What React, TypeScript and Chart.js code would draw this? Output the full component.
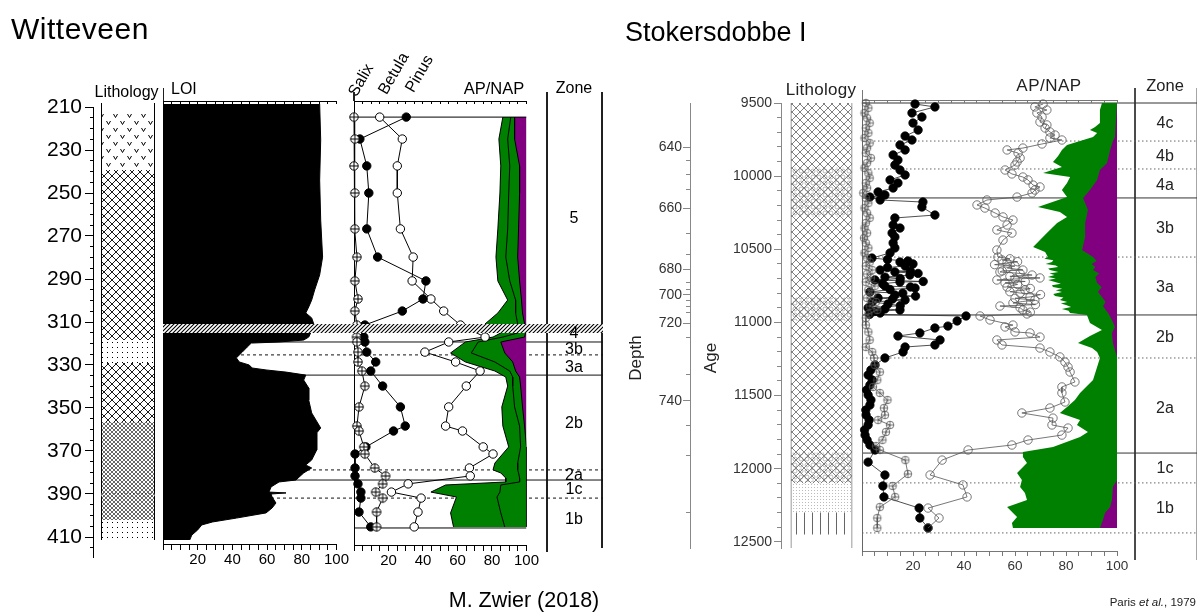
import React, { useEffect, useRef } from 'react';
import { Chart, registerables } from 'chart.js';

Chart.register(...registerables);

const FONT = '"Liberation Sans", Arial, Helvetica, sans-serif';
const GREEN = '#008000';
const PURPLE = '#800080';

/* ======================= Witteveen (M. Zwier 2018) ======================= */
const wDepthLabels = [210, 230, 250, 270, 290, 310, 330, 350, 370, 390, 410];
const wDepthMinor = [210, 215, 220, 225, 230, 235, 240, 245, 250, 255, 260, 265, 270, 275, 280, 285, 290, 295, 300, 305, 310, 315, 320, 325, 330, 335, 340, 345, 350, 355, 360, 365, 370, 375, 380, 385, 390, 395, 400, 405, 410, 415];
const pctTicks = [0, 5, 10, 15, 20, 25, 30, 35, 40, 45, 50, 55, 60, 65, 70, 75, 80, 85, 90, 95, 100];
const pctLabels = [20, 40, 60, 80, 100];

const wLithoTop = [212.5, 239.3, 318.4, 329.1, 356.5, 389.6, 402.1];
const wLithoBottom = [239.3, 318.4, 329.1, 356.5, 402.1, 391.0, 411.4];
const wLithoKind = ['vees', 'diamond', 'dots', 'diamond', 'fine', 'light', 'dots'];
const wLithoFrame = [208.1, 411.4];

const loiDepth = [208.6, 225.3, 244.0, 262.6, 279.8, 288.1, 295.1, 299.8, 303.0, 305.8, 308.1, 310.9, 315.1, 317.0, 318.4, 319.3, 319.8, 321.6, 324.0, 326.7, 328.6, 330.0, 331.4, 332.3, 333.3, 334.7, 337.0, 340.7, 346.3, 352.3, 359.3, 361.6, 369.5, 374.2, 376.5, 377.9, 380.2, 383.5, 384.4, 386.7, 389.1, 389.5, 390.0, 391.4, 394.2, 396.5, 398.8, 401.2, 403.0, 404.4, 406.7, 409.1, 411.4];
const loiValue = [90.3, 90.9, 90.3, 90.9, 92.0, 90.3, 87.4, 85.7, 84.0, 82.3, 85.7, 86.9, 85.1, 84.0, 81.1, 66.9, 50.9, 48.6, 45.7, 42.3, 44.0, 49.7, 51.4, 59.4, 70.9, 82.3, 81.1, 84.0, 84.0, 85.7, 90.9, 88.6, 88.6, 85.7, 82.3, 85.7, 81.1, 76.6, 66.9, 62.3, 61.1, 70.9, 62.3, 62.9, 65.1, 62.9, 59.4, 42.3, 28.6, 22.3, 20.0, 16.6, 15.4];

const wPollenDepth = [214.7, 224.9, 237.4, 250.0, 266.7, 279.8, 290.9, 299.3, 304.9, 311.4, 317.0, 319.3, 324.0, 328.6, 332.8, 339.8, 349.5, 358.4, 360.7, 368.1, 371.4, 377.9, 381.6, 385.3, 389.1, 391.9, 398.4, 405.3];
const wSalix = [0, 0.5, 0, 0.5, 0.5, 1.7, 0.5, 2.3, 0.5, 1.7, 1.5, 1.7, 2.3, 2.3, 4.6, 6.3, 2.9, 1.7, 2.9, 5.7, 6.3, 12.0, 18.3, 16.6, 12.6, 16.6, 13.1, 13.1];
const wBetula = [30.3, 3.4, 7.4, 8.6, 7.4, 13.7, 41.7, 40.0, 28.0, 6.3, 5.7, 6.3, 7.4, 12.6, 9.7, 16.6, 26.9, 29.7, 22.9, 6.9, 0.6, 0.6, 0.6, 2.3, 4.0, 4.0, 2.9, 9.7];
const wPinus = [14.9, 28.0, 25.1, 25.1, 26.9, 34.3, 33.7, 44.6, 52.0, 61.7, 76.0, 54.9, 41.1, 58.9, 73.1, 65.1, 54.9, 53.1, 62.9, 74.9, 80.6, 66.9, 67.4, 31.4, 21.7, 38.9, 37.1, 34.9];
const wPollenTop = 214.7;
const wPollenBottom = 405.8;

const wApDepth = [214.7, 224.9, 237.4, 250.0, 266.7, 279.8, 290.9, 299.8, 305.8, 310.9, 315.1, 317.0, 319.3, 324.4, 328.6, 332.8, 335.6, 339.8, 349.5, 358.4, 368.1, 375.6, 378.8, 380.2, 382.6, 384.4, 385.8, 389.1, 391.4, 398.8, 405.3];
const wApGreen = [86.3, 84.0, 85.1, 84.6, 83.4, 82.3, 83.4, 89.1, 83.4, 76.0, 85.1, 80.6, 64.6, 56.0, 64.6, 81.7, 88.0, 89.1, 85.7, 86.3, 89.7, 81.7, 80.6, 85.1, 88.0, 88.0, 53.1, 44.6, 59.4, 56.0, 57.7];
const wApLine = [90.9, 89.1, 90.3, 89.7, 89.1, 88.0, 90.3, 93.7, 93.7, 94.9, 94.9, 86.3, 72.0, 68.0, 81.7, 90.3, 92.0, 92.0, 93.1, 96.0, 96.6, 94.9, 94.9, 95.4, 96.0, 96.0, 85.1, 84.6, 82.9, 85.1, 87.4];
const wApPurple = [93.1, 93.1, 96.0, 96.0, 95.4, 94.9, 96.0, 97.1, 97.7, 98.9, 99.4, 98.9, 85.1, 87.4, 92.0, 93.7, 96.0, 96.6, 97.7, 98.9, 100, 100, 100, 100, 100, 100, 100, 100, 100, 100, 100];

const wZoneSolid = [319.3, 334.7, 383.5];
const wZoneDashed = [325.3, 378.8, 391.9];
const wHiatus = [310.9, 315.1];
const wZoneNames = ['5', '4', '3b', '3a', '2b', '2a', '1c', '1b'];
const wZoneLabelY = [218, 333, 349, 367, 423, 475, 489, 519];

/* ======================= Stokersdobbe I (Paris et al., 1979) ======================= */
const sAgeLabels = [9500, 10000, 10500, 11000, 11500, 12000, 12500];
const sAgeMinor = [9500, 9600, 9700, 9800, 9900, 10000, 10100, 10200, 10300, 10400, 10500, 10600, 10700, 10800, 10900, 11000, 11100, 11200, 11300, 11400, 11500, 11600, 11700, 11800, 11900, 12000, 12100, 12200, 12300, 12400, 12500];
const sDepthLabels = [640, 660, 680, 700, 720, 740];
const sDepthLabelAge = [9801, 10218, 10635, 10812, 11004, 11537];
const sDepthMinorAge = [9896, 9992, 10088, 10389, 10539, 10730, 10778, 10847, 10888, 10929, 11106, 11359, 11708, 11913, 12302];

const sLithoTop = [9500, 9940, 10830, 11890, 12100, 12300];
const sLithoBottom = [12100, 10280, 10990, 12090, 12300, 12450];
const sLithoKind = ['sCross', 'sRings', 'sRings', 'sRings', 'sDots', 'sVert'];
const sLithoFrame = [9500, 12542];

const sSalixAge = [9500, 9534, 9568, 9603, 9637, 9671, 9705, 9739, 9773, 9808, 9842, 9876, 9910, 9944, 9979, 10013, 10047, 10081, 10115, 10149, 10184, 10218, 10252, 10286, 10320, 10355, 10389, 10423, 10457, 10491, 10525, 10560, 10587, 10614, 10642, 10669, 10696, 10724, 10751, 10778, 10806, 10833, 10860, 10888, 10915, 10942, 10970, 11018, 11065, 11120, 11168, 11202, 11243, 11291, 11339, 11394, 11441, 11482, 11530, 11585, 11633, 11667, 11701, 11749, 11804, 11845, 11872, 11941, 12036, 12118, 12193, 12262, 12337, 12405];
const sSalix = [1.5, 2.5, 1, 2, 3, 1.5, 2.5, 1, 3, 2, 1.5, 3.5, 2, 1, 2.5, 3, 1.5, 2, 0.5, 1.5, 2.5, 1, 2, 3, 1.5, 1, 2, 0.8, 1.5, 2.5, 1, 2, 3, 1.5, 4, 2, 3.5, 1.5, 5, 2.5, 4, 2, 5.5, 3, 6, 2.5, 1.5, 1.5, 2.5, 3, 1.5, 4, 4.7, 5, 7, 6, 4.3, 7, 10, 8.6, 9, 6.3, 11, 9.4, 8, 5.5, 7, 17, 18, 12, 13, 7, 6, 6];

const sBetulaAge = [9507, 9527, 9568, 9596, 9637, 9685, 9726, 9753, 9787, 9821, 9855, 9890, 9924, 9958, 9992, 10026, 10047, 10081, 10108, 10129, 10143, 10163, 10177, 10211, 10266, 10286, 10334, 10355, 10389, 10416, 10457, 10491, 10525,
  10560, 10570, 10580, 10587, 10600, 10614, 10625, 10642, 10650, 10655, 10665, 10676, 10690, 10700, 10710, 10720, 10724, 10735, 10751, 10758, 10765, 10775, 10792, 10800, 10813, 10820, 10833, 10840, 10847, 10860, 10874, 10885, 10901, 10908, 10915, 10925, 10936, 10945,
  10956, 10990, 11025, 11038, 11072, 11093, 11120, 11154, 11168, 11202, 11243, 11291, 11325, 11359, 11394, 11428, 11462, 11496, 11530, 11565, 11599, 11633, 11667, 11701, 11735, 11770, 11804, 11838, 11872, 11955, 12043, 12118, 12193, 12269, 12337, 12405];
const sBetula = [20.8, 28.6, 19.6, 23.5, 20.0, 22.0, 16.9, 19.6, 14.9, 16.9, 12.2, 14.1, 12.9, 14.9, 16.9, 11.0, 14.1, 12.2, 6.3, 9.0, 3.1, 7.1, 23.9, 23.5, 28.6, 12.9, 12.2, 14.9, 11.8, 12.9, 12.2, 12.9, 11.0,
  3.9, 10, 18, 14.9, 20, 16.9, 10, 7.1, 19, 12.9, 22, 18.8, 9, 15, 5.1, 24, 14.9, 8, 9.0, 19, 20.8, 11, 3.1, 16, 12.9, 21, 6.3, 12, 16.9, 4, 10.2, 15, 2.4, 9, 14.9, 5, 7.1, 3,
  40.8, 37.3, 33.7, 28.6, 22.7, 14.1, 30.6, 28.6, 16.9, 16.1, 9.0, 5.1, 3.5, 2.4, 4.0, 3.1, 1.8, 2.4, 3.5, 3.1, 1.5, 1.6, 2.8, 2.4, 1.0, 1.2, 2.0, 3.1, 5.1, 2.4, 9.0, 8.2, 8.6, 22.4, 22.7, 25.9];

const sPinusAge = [9507, 9527, 9548, 9568, 9596, 9630, 9650, 9671, 9698, 9719, 9739, 9753, 9780, 9808, 9821, 9842, 9876, 9903, 9924, 9958, 9985, 10006, 10026, 10061, 10074, 10095, 10115, 10143, 10163, 10197, 10218, 10252, 10279, 10300, 10334, 10368, 10389, 10437, 10505,
  10553, 10565, 10573, 10585, 10594, 10605, 10614, 10628, 10642, 10648, 10655, 10665, 10676, 10685, 10696, 10703, 10710, 10720, 10730, 10740, 10758, 10768, 10778, 10790, 10799, 10810, 10826, 10835, 10847, 10857, 10867, 10878, 10888, 10900, 10915, 10930, 10942,
  10956, 10983, 11018, 11031, 11065, 11072, 11100, 11120, 11154, 11175, 11202, 11236, 11271, 11305, 11339, 11407, 11441, 11482, 11544, 11585, 11619, 11654, 11701, 11722, 11770, 11804, 11838, 11872, 11941, 12043, 12111, 12193, 12269, 12337, 12405];
const sPinus = [71.0, 67.8, 72.5, 68.6, 70.6, 69.8, 72.5, 71.8, 73.7, 75.7, 73.7, 78.4, 70.6, 63.1, 56.9, 61.2, 62.0, 60.8, 60.0, 56.1, 58.8, 63.1, 65.1, 67.1, 69.8, 67.8, 66.7, 60.8, 49.0, 45.1, 48.2, 52.2, 55.3, 59.2, 56.9, 52.9, 58.8, 55.3, 52.9,
  53.3, 58, 54.9, 61, 56.9, 52, 60.0, 57, 63.1, 55, 54.1, 62, 66.7, 58, 69.8, 60, 52.9, 64, 56.1, 61, 56.9, 66, 63.9, 58, 62.0, 70, 65.9, 60, 67.8, 63, 59.2, 68, 54.1, 62, 63.1, 66, 64.7,
  46.3, 50.2, 59.2, 56.1, 60.0, 65.9, 69.8, 52.9, 54.9, 69.8, 73.7, 77.6, 79.6, 80.8, 81.6, 83.5, 78.4, 78.4, 79.6, 73.7, 62.7, 74.9, 74.5, 80.8, 78.4, 65.1, 58.8, 41.6, 31.4, 26.7, 39.6, 41.2, 25.9, 30.2, 25.9];

const sGreenAge = [9500, 9548, 9637, 9664, 9685, 9705, 9732, 9760, 9787, 9821, 9862, 9903, 9938, 9979, 10006, 10047, 10095, 10143, 10211, 10245, 10279, 10320, 10389, 10437, 10484, 10519,
  10553, 10565, 10575, 10587, 10600, 10610, 10621, 10632, 10642, 10655, 10665, 10676, 10689, 10700, 10710, 10724, 10735, 10745, 10758, 10770, 10780, 10792, 10805, 10819, 10830, 10847, 10860, 10870, 10881, 10895, 10908, 10920, 10936,
  10949, 11004, 11052, 11093, 11141, 11175, 11202, 11243, 11305, 11394, 11482, 11530, 11578, 11619, 11667, 11701, 11749, 11783, 11852, 11886, 11920, 11961, 12029, 12077, 12125, 12166, 12214, 12262, 12330, 12371, 12405];
const sGreen = [94.1, 93.3, 93.3, 91.4, 89.4, 92.2, 90.6, 85.5, 80.4, 78.4, 76.9, 74.9, 78.4, 71.0, 81.6, 80.4, 78.4, 80.4, 69.0, 77.6, 80.4, 76.5, 72.5, 69.8, 67.1, 71.8,
  72.9, 71.5, 75, 74.5, 72, 76, 76.9, 73, 73.7, 77, 73.5, 75.5, 72.9, 76, 73, 75.7, 78, 74.5, 74.9, 78.5, 76, 78.4, 75, 75.7, 79, 77.6, 80.5, 78, 80.0, 82, 78.4, 81, 81.6,
  88.2, 89.4, 94.1, 89.4, 84.7, 90.2, 92.2, 93.3, 92.2, 90.6, 85.5, 83.5, 80.4, 77.6, 85.5, 84.3, 88.6, 85.5, 74.9, 63.1, 63.1, 64.7, 60.8, 62.7, 62.0, 63.9, 64.7, 56.9, 60.8, 58.8, 59.2];

const sPurpleAge = [9500, 9616, 9732, 9760, 9821, 9910, 9958, 10026, 10095, 10149, 10231, 10320, 10416, 10505,
  10553, 10580, 10600, 10620, 10642, 10665, 10690, 10730, 10760, 10790, 10826, 10860, 10890, 10936,
  10983, 11031, 11072, 11141, 11236, 12077, 12125, 12214, 12262, 12303, 12351, 12405];
const sPurple = [100, 99.6, 99.2, 98.4, 97.3, 96.1, 93.3, 92.2, 89.4, 86.7, 88.6, 87.5, 87.5, 86.3,
  90.6, 92, 90, 91.5, 90.6, 93, 91.5, 92.2, 94, 92.5, 94.1, 95.5, 94.5, 96.5,
  98.0, 99.2, 98.0, 98.4, 100, 100, 98.4, 98.0, 97.3, 95.3, 94.5, 93.3];

const sZoneSolid = [9500, 10149, 10949, 11893];
const sZoneDotted = [9760, 9951, 10553, 11243, 12097, 12439];
const sZoneNames = ['4c', '4b', '4a', '3b', '3a', '2b', '2a', '1c', '1b'];
const sZoneLabelY = [123, 156, 185, 228, 287, 337, 408, 468, 508];

/* ======================= layout helpers ======================= */
const W_PX = 2.15, W_REF_PX = 107, W_REF_D = 210;
const wDepthAt = (py: number) => W_REF_D + (py - W_REF_PX) / W_PX;
const S_PX = 445 / 3042, S_REF_PX = 103, S_REF_A = 9500;
const sAgeAt = (py: number) => S_REF_A + (py - S_REF_PX) / S_PX;

const pts = (xs: number[], ys: number[]) => xs.map((x, i) => ({ x, y: ys[i] }));
const fixSize = (n: number) => (s: any) => { if (s.isHorizontal()) s.height = n; else s.width = n; };
const setTicks = (vals: number[]) => (s: any) => { s.ticks = vals.map((v) => ({ value: v })); };

function base(padding: any, scales: any, extra: any = {}) {
  return {
    responsive: false,
    maintainAspectRatio: false,
    animation: false,
    devicePixelRatio: 1,
    events: [],
    layout: { padding },
    plugins: { legend: { display: false }, tooltip: { enabled: false }, title: { display: false } },
    scales,
    ...extra,
  };
}

function pattern(w: number, h: number, draw: (g: CanvasRenderingContext2D) => void) {
  const c = document.createElement('canvas');
  c.width = w;
  c.height = h;
  const g = c.getContext('2d')!;
  draw(g);
  return g.createPattern(c, 'repeat')!;
}

function patterns(): Record<string, CanvasPattern> {
  return {
    vees: pattern(14, 14, (g) => {
      g.strokeStyle = '#000'; g.lineWidth = 1; g.beginPath();
      g.moveTo(1.5, 2); g.lineTo(3.5, 5.5); g.lineTo(5.5, 2);
      g.moveTo(8.5, 9); g.lineTo(10.5, 12.5); g.lineTo(12.5, 9);
      g.stroke();
    }),
    diamond: pattern(8, 8, (g) => {
      g.strokeStyle = '#000'; g.lineWidth = 0.9; g.beginPath();
      g.moveTo(0, 0); g.lineTo(8, 8); g.moveTo(8, 0); g.lineTo(0, 8); g.stroke();
    }),
    dots: pattern(5, 5, (g) => { g.fillStyle = '#000'; g.fillRect(2, 2, 1, 1); }),
    fine: pattern(4, 4, (g) => {
      g.strokeStyle = '#000'; g.lineWidth = 0.6; g.beginPath();
      g.moveTo(0, 0); g.lineTo(4, 4); g.moveTo(4, 0); g.lineTo(0, 4); g.stroke();
    }),
    light: pattern(3, 3, (g) => { g.fillStyle = '#fff'; g.fillRect(0, 0, 3, 3); g.fillStyle = '#666'; g.fillRect(1, 1, 1, 1); }),
    hatch: pattern(4, 4, (g) => {
      g.fillStyle = '#fff'; g.fillRect(0, 0, 4, 4);
      g.strokeStyle = '#000'; g.lineWidth = 1.1; g.beginPath();
      g.moveTo(-1, 5); g.lineTo(5, -1); g.moveTo(-1, 1); g.lineTo(1, -1); g.moveTo(3, 5); g.lineTo(5, 3);
      g.stroke();
    }),
    sCross: pattern(8, 8, (g) => {
      g.strokeStyle = '#808080'; g.lineWidth = 1; g.beginPath();
      g.moveTo(-1, -1); g.lineTo(9, 9); g.moveTo(9, -1); g.lineTo(-1, 9); g.stroke();
    }),
    sRings: pattern(6, 6, (g) => {
      g.strokeStyle = 'rgba(175,175,175,0.95)'; g.lineWidth = 0.9; g.beginPath();
      g.arc(3, 3, 2, 0, Math.PI * 2); g.stroke();
    }),
    sDots: pattern(3, 3, (g) => { g.fillStyle = '#bbb'; g.fillRect(1, 1, 1, 1); }),
    sVert: pattern(8, 4, (g) => { g.fillStyle = '#666'; g.fillRect(4, 0, 1, 4); }),
  };
}

function crossCircle(r: number, stroke: string, fill: string, lw: number) {
  const s = 2 * Math.ceil(r + lw) + 2;
  const c = document.createElement('canvas');
  c.width = s; c.height = s;
  const g = c.getContext('2d')!;
  const m = s / 2;
  g.strokeStyle = stroke; g.fillStyle = fill; g.lineWidth = lw;
  g.beginPath(); g.arc(m, m, r, 0, Math.PI * 2); g.fill(); g.stroke();
  g.beginPath(); g.moveTo(m - r, m); g.lineTo(m + r, m); g.moveTo(m, m - r); g.lineTo(m, m + r); g.stroke();
  return c;
}

function pctBottom(size: number, line: string, label: string, fontSize: number, tl: number, pad: number) {
  return {
    type: 'linear', position: 'bottom', min: 0, max: 100, offset: false,
    afterBuildTicks: setTicks(pctTicks), afterFit: fixSize(size),
    ticks: {
      autoSkip: false, maxRotation: 0, minRotation: 0, padding: pad, color: label,
      font: { family: FONT, size: fontSize },
      callback: (v: number) => (pctLabels.includes(v) ? String(v) : ''),
    },
    grid: { drawOnChartArea: false, tickLength: tl, color: line },
    border: { color: line, width: 1 },
  };
}

function pctTop(size: number, line: string) {
  return {
    type: 'linear', position: 'top', min: 0, max: 100, offset: false,
    afterBuildTicks: setTicks(pctTicks), afterFit: fixSize(size),
    ticks: { display: false, autoSkip: false },
    grid: { drawOnChartArea: false, tickLength: -3, color: line },
    border: { color: line, width: 1 },
  };
}

function edgeAxis(min: number, max: number, color: string) {
  return {
    type: 'linear', position: 'left', min, max, reverse: true, offset: false,
    afterFit: fixSize(0), ticks: { display: false },
    grid: { drawOnChartArea: false, drawTicks: false, color },
    border: { color, width: 1 },
  };
}

function tickAxis(opts: any) {
  const { weight, min, max, ticks, size, tl, color, labelColor, fontSize, labels, pad } = opts;
  return {
    type: 'linear', position: 'left', weight, min, max, reverse: true, offset: false, beginAtZero: false,
    afterBuildTicks: setTicks(ticks), afterFit: fixSize(size),
    ticks: labels
      ? { autoSkip: false, color: labelColor, padding: pad, font: { family: FONT, size: fontSize }, callback: labels }
      : { display: false, autoSkip: false },
    grid: { drawOnChartArea: false, tickLength: tl, color },
    border: { color, width: 1 },
  };
}

const hLine = (y: number, x0: number, x1: number, color: string, dash: number[], width = 1) => ({
  data: [{ x: x0, y }, { x: x1, y }], borderColor: color, borderWidth: width, borderDash: dash,
  pointRadius: 0, fill: false, tension: 0,
});
const vLine = (x: number, y0: number, y1: number, color: string, width = 1) => ({
  data: [{ x, y: y0 }, { x, y: y1 }], borderColor: color, borderWidth: width,
  pointRadius: 0, fill: false, tension: 0,
});

/* ======================= Witteveen charts ======================= */
function makeWAxis() {
  const P = patterns();
  const yMin = W_REF_D, yMax = wDepthAt(557);
  const litho = wLithoKind.map((k, i) => ({
    data: [{ x: 35, y: [wLithoTop[i], wLithoBottom[i]] }],
    backgroundColor: P[k], borderWidth: 0, barThickness: 53, grouped: false, yAxisID: 'y', inflateAmount: 0,
  }));
  const frame = {
    data: [{ x: 35, y: wLithoFrame }], backgroundColor: 'rgba(0,0,0,0)', borderColor: '#000',
    borderWidth: { left: 1, right: 1, top: 0, bottom: 0 }, borderSkipped: false,
    barThickness: 54, grouped: false, yAxisID: 'y', clip: false, inflateAmount: 0,
  };
  return {
    type: 'bar',
    data: { datasets: [...litho, frame] },
    options: base({ left: 0, right: 5, top: 107, bottom: 55 }, {
      x: { type: 'linear', display: false, min: 0, max: 62, offset: false },
      y: tickAxis({ weight: 2, min: yMin, max: yMax, ticks: wDepthLabels, size: 93, tl: 8, color: '#000', labelColor: '#000', fontSize: 21, pad: 3, labels: (v: number) => String(v) }),
      yMinor: tickAxis({ weight: 1, min: yMin, max: yMax, ticks: wDepthMinor, size: 0, tl: 3, color: '#000' }),
    }),
  };
}

function makeWLoi() {
  return {
    type: 'line',
    data: {
      datasets: [{
        data: pts(loiValue, loiDepth), borderColor: '#000', backgroundColor: '#000', borderWidth: 1,
        pointRadius: 0, fill: { value: 0 }, tension: 0,
      }],
    },
    options: base({ left: 13, right: 12, top: 0, bottom: 0 }, {
      x: pctBottom(68, '#000', '#000', 15, 6, 1),
      xTop: pctTop(101, '#000'),
      y: edgeAxis(wDepthAt(101), wDepthAt(544), '#000'),
    }, { indexAxis: 'y' }),
  };
}

function makeWPollen() {
  const cc = crossCircle(4.2, '#000', '#fff', 1);
  const profile = (vals: number[], style: any) => ({
    data: pts(vals, wPollenDepth), borderColor: '#000', borderWidth: 1, tension: 0, fill: false,
    pointRadius: 4.2, pointBorderWidth: 1, pointBorderColor: '#000', clip: false, order: 1, ...style,
  });
  return {
    type: 'line',
    data: {
      datasets: [
        profile(wSalix, { pointStyle: cc, pointBackgroundColor: '#fff' }),
        profile(wBetula, { pointStyle: 'circle', pointBackgroundColor: '#000' }),
        profile(wPinus, { pointStyle: 'circle', pointBackgroundColor: '#fff' }),
        { ...hLine(wPollenTop, 0, 100, '#000', []), order: 5 },
        { ...hLine(wPollenBottom, 0, 100, '#000', []), order: 5 },
        { data: pts(wApPurple, wApDepth), borderColor: '#000', borderWidth: 1, backgroundColor: PURPLE, fill: { value: 100 }, pointRadius: 0, tension: 0, order: 10 },
        { data: pts(wApLine, wApDepth), borderColor: '#000', borderWidth: 1, fill: false, pointRadius: 0, tension: 0, order: 11 },
        { data: pts(wApGreen, wApDepth), borderColor: '#000', borderWidth: 1, backgroundColor: GREEN, fill: { value: 100 }, pointRadius: 0, tension: 0, order: 12 },
      ],
    },
    options: base({ left: 14, right: 11, top: 0, bottom: 0 }, {
      x: pctBottom(67, '#000', '#000', 15, 6, 1),
      xTop: pctTop(101, '#000'),
      y: edgeAxis(wDepthAt(101), wDepthAt(545), '#000'),
    }, { indexAxis: 'y' }),
  };
}

function makeWLines() {
  const datasets = [
    ...wZoneSolid.map((d) => hLine(d, 0, 440, '#111', [])),
    ...wZoneDashed.map((d) => hLine(d, 0, 440, '#111', [3, 3])),
    vLine(0, wDepthAt(88), wDepthAt(101), '#000'),
    vLine(191, wDepthAt(92), wDepthAt(101), '#000'),
    vLine(384, wDepthAt(92), wDepthAt(552), '#000'),
    vLine(439, wDepthAt(92), wDepthAt(548), '#000'),
  ];
  return {
    type: 'line',
    data: { datasets },
    options: base({ left: 13, right: 7, top: 85, bottom: 52 }, {
      x: { type: 'linear', display: false, min: 0, max: 440, offset: false },
      y: { type: 'linear', display: false, min: wDepthAt(85), max: wDepthAt(560), reverse: true, offset: false },
    }),
  };
}

function makeWHatch() {
  const P = patterns();
  return {
    type: 'bar',
    data: {
      datasets: [{
        data: [{ x: [0, 440], y: (wHiatus[0] + wHiatus[1]) / 2 }], backgroundColor: P.hatch, borderWidth: 0,
        barThickness: (wHiatus[1] - wHiatus[0]) * W_PX, grouped: false, inflateAmount: 0,
      }],
    },
    options: base({ left: 13, right: 7, top: 85, bottom: 52 }, {
      x: { type: 'linear', display: false, min: 0, max: 440, offset: false },
      y: { type: 'linear', display: false, min: wDepthAt(85), max: wDepthAt(560), reverse: true, offset: false },
    }, { indexAxis: 'y' }),
  };
}

/* ======================= Stokersdobbe charts ======================= */
function makeSAxes() {
  const P = patterns();
  const yMin = S_REF_A, yMax = sAgeAt(548);
  const litho = sLithoKind.map((k, i) => ({
    data: [{ x: 40.5, y: [sLithoTop[i], sLithoBottom[i]] }],
    backgroundColor: P[k], borderWidth: 0, barThickness: 61, grouped: false, yAxisID: 'y', inflateAmount: 0,
  }));
  const frame = {
    data: [{ x: 40.5, y: sLithoFrame }], backgroundColor: 'rgba(0,0,0,0)', borderColor: '#777',
    borderWidth: { left: 1, right: 1, top: 0, bottom: 0 }, borderSkipped: false,
    barThickness: 62, grouped: false, yAxisID: 'y', clip: false, inflateAmount: 0,
  };
  return {
    type: 'bar',
    data: { datasets: [...litho, frame] },
    options: base({ left: 0, right: 0, top: 103, bottom: 64 }, {
      x: { type: 'linear', display: false, min: 0, max: 89, offset: false },
      yDepth: tickAxis({ weight: 4, min: yMin, max: yMax, ticks: sDepthLabelAge, size: 90, tl: 7, color: '#888', labelColor: '#333', fontSize: 14, pad: 1, labels: (_v: number, i: number) => String(sDepthLabels[i]) }),
      yDepthMinor: tickAxis({ weight: 3, min: yMin, max: yMax, ticks: sDepthMinorAge, size: 0, tl: 4, color: '#888' }),
      y: tickAxis({ weight: 2, min: yMin, max: yMax, ticks: sAgeLabels, size: 91, tl: 7, color: '#888', labelColor: '#333', fontSize: 14, pad: 2, labels: (v: number) => String(v) }),
      yMinor: tickAxis({ weight: 1, min: yMin, max: yMax, ticks: sAgeMinor, size: 0, tl: 4, color: '#888' }),
    }),
  };
}

function makeSPollen() {
  const cc = crossCircle(3.8, '#555', 'rgba(255,255,255,0)', 0.8);
  const profile = (vals: number[], ages: number[], style: any) => ({
    data: pts(vals, ages), borderColor: '#555', borderWidth: 0.8, tension: 0, fill: false,
    pointRadius: 4, pointBorderWidth: 0.8, pointBorderColor: '#555', clip: false, order: 1, ...style,
  });
  return {
    type: 'line',
    data: {
      datasets: [
        profile(sSalix, sSalixAge, { pointStyle: cc, pointBackgroundColor: 'rgba(0,0,0,0)' }),
        profile(sPinus, sPinusAge, { pointStyle: 'circle', pointBackgroundColor: 'rgba(255,255,255,0)', pointRadius: 4.2 }),
        profile(sBetula, sBetulaAge, { pointStyle: 'circle', pointBackgroundColor: '#000', pointBorderColor: '#000', borderColor: '#222', pointRadius: 4.2 }),
        { data: pts(sPurple, sPurpleAge), borderWidth: 0, borderColor: PURPLE, backgroundColor: PURPLE, fill: { value: 100 }, pointRadius: 0, tension: 0, order: 10 },
        { data: pts(sGreen, sGreenAge), borderWidth: 0, borderColor: GREEN, backgroundColor: GREEN, fill: { value: 100 }, pointRadius: 0, tension: 0, order: 12 },
      ],
    },
    options: base({ left: 12, right: 33, top: 0, bottom: 0 }, {
      x: pctBottom(61, '#777', '#333', 13.5, 5, 2),
      xTop: pctTop(100, '#777'),
      y: edgeAxis(sAgeAt(100), sAgeAt(551), '#666'),
    }, { indexAxis: 'y' }),
  };
}

function makeSLines() {
  const datasets = [
    ...sZoneSolid.map((a) => hLine(a, 0, 335, '#333', [])),
    ...sZoneDotted.map((a) => hLine(a, 0, 335, '#666', [1.5, 2.5])),
    vLine(0, sAgeAt(90), sAgeAt(100), '#666'),
    vLine(273, sAgeAt(88), sAgeAt(560), '#333'),
    vLine(335, sAgeAt(88), sAgeAt(560), '#999'),
  ];
  return {
    type: 'line',
    data: { datasets },
    options: base({ left: 12, right: 3, top: 85, bottom: 47 }, {
      x: { type: 'linear', display: false, min: 0, max: 335, offset: false },
      y: { type: 'linear', display: false, min: sAgeAt(85), max: sAgeAt(565), reverse: true, offset: false },
    }),
  };
}

/* ======================= components ======================= */
type Spec = { id: string; x: number; y: number; w: number; h: number; z: number; make: () => any };

const specs: Spec[] = [
  { id: 'wLines', x: 150, y: 0, w: 460, h: 612, z: 1, make: makeWLines },
  { id: 'wAxis', x: 0, y: 0, w: 160, h: 612, z: 2, make: makeWAxis },
  { id: 'wLoi', x: 150, y: 0, w: 200, h: 612, z: 2, make: makeWLoi },
  { id: 'wPollen', x: 340, y: 0, w: 200, h: 612, z: 2, make: makeWPollen },
  { id: 'wHatch', x: 150, y: 0, w: 460, h: 612, z: 3, make: makeWHatch },
  { id: 'sLines', x: 850, y: 0, w: 350, h: 612, z: 1, make: makeSLines },
  { id: 'sAxes', x: 600, y: 0, w: 270, h: 612, z: 2, make: makeSAxes },
  { id: 'sPollen', x: 850, y: 0, w: 300, h: 612, z: 2, make: makeSPollen },
];

function ChartCanvas({ spec }: { spec: Spec }) {
  const ref = useRef<HTMLCanvasElement | null>(null);
  useEffect(() => {
    if (!ref.current) return;
    const chart = new Chart(ref.current, spec.make());
    return () => chart.destroy();
  }, [spec]);
  return (
    <canvas
      ref={ref}
      width={spec.w}
      height={spec.h}
      style={{ position: 'absolute', left: spec.x, top: spec.y, width: spec.w, height: spec.h, zIndex: spec.z }}
    />
  );
}

function Label(props: { x: number; y: number; size: number; children: React.ReactNode; align?: string; color?: string; rotate?: number; ls?: number }) {
  const { x, y, size, children, align = 'center', color = '#000', rotate = 0, ls = 0 } = props;
  const tx = align === 'center' ? '-50%' : align === 'right' ? '-100%' : '0';
  return (
    <div
      style={{
        position: 'absolute', left: x, top: y, transform: `translate(${tx}, -50%) rotate(${rotate}deg)`,
        fontSize: size, lineHeight: 1, whiteSpace: 'nowrap', color, fontFamily: FONT, letterSpacing: ls, zIndex: 5,
      }}
    >
      {children}
    </div>
  );
}

function Slanted(props: { x: number; y: number; size: number; text: string }) {
  return (
    <div
      style={{
        position: 'absolute', left: props.x, top: props.y - props.size, fontSize: props.size, lineHeight: 1,
        whiteSpace: 'nowrap', fontFamily: FONT, color: '#000', transformOrigin: '0% 100%',
        transform: 'rotate(-60deg)', zIndex: 5,
      }}
    >
      {props.text}
    </div>
  );
}

export default function App() {
  return (
    <div style={{ position: 'absolute', left: 0, top: 0, width: 1200, height: 612, background: '#fff', overflow: 'hidden', fontFamily: FONT }}>
      {specs.map((s) => (
        <ChartCanvas key={s.id} spec={s} />
      ))}

      {/* Witteveen texts */}
      <Label x={11} y={29} size={30} align="left" ls={0.5}>Witteveen</Label>
      <Label x={126.5} y={91.5} size={16}>Lithology</Label>
      <Label x={171} y={89} size={16} align="left">LOI</Label>
      <Slanted x={359} y={99} size={16} text="Salix" />
      <Slanted x={389} y={97} size={16} text="Betula" />
      <Slanted x={416} y={95} size={16} text="Pinus" />
      <Label x={494} y={88} size={16.5}>AP/NAP</Label>
      <Label x={574} y={88} size={16}>Zone</Label>
      {wZoneNames.map((n, i) => (
        <Label key={'wz' + n} x={574} y={wZoneLabelY[i]} size={16}>{n}</Label>
      ))}
      <Label x={524} y={601} size={21.5}>M. Zwier (2018)</Label>

      {/* Stokersdobbe texts */}
      <Label x={625} y={32} size={27} align="left">Stokersdobbe I</Label>
      <Label x={821} y={89} size={17} color="#222" ls={0.3}>Lithology</Label>
      <Label x={1049} y={85} size={17} color="#222" ls={0.5}>AP/NAP</Label>
      <Label x={1165} y={85} size={16.5} color="#222">Zone</Label>
      {sZoneNames.map((n, i) => (
        <Label key={'sz' + n} x={1165} y={sZoneLabelY[i]} size={16} color="#222">{n}</Label>
      ))}
      <Label x={635} y={358} size={17} rotate={-90} color="#222">Depth</Label>
      <Label x={710} y={358} size={17} rotate={-90} color="#222">Age</Label>
      <Label x={1196} y={603} size={11.5} align="right" color="#222">
        Paris <i>et al.</i>, 1979
      </Label>
    </div>
  );
}
